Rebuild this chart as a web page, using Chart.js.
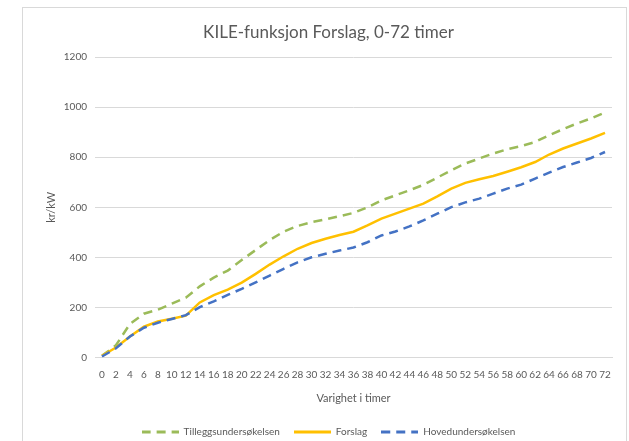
<!DOCTYPE html>
<html>
<head>
<meta charset="utf-8">
<script src="https://cdn.jsdelivr.net/npm/chart.js@4"></script>
<style>
  body { margin: 0; background: #ffffff; }
  #frame {
    position: absolute; left: 22px; top: 7px;
    width: 603px; height: 440px;
    border: 1px solid #d9d9d9; background: #ffffff;
  }
  canvas { display: block; }
</style>
</head>
<body>
<div id="frame"><canvas id="chart" width="603" height="440"></canvas></div>
<script>
// Hours on the x axis (0-72, every 2 hours)
const hours = ['0','2','4','6','8','10','12','14','16','18','20','22','24','26','28','30','32','34','36',
               '38','40','42','44','46','48','50','52','54','56','58','60','62','64','66','68','70','72'];

// kr/kW values
const tillegg = [8, 50, 135, 176, 192, 216, 240, 285, 320, 348, 390, 430, 470, 503, 526, 541, 552, 565, 578,
                 600, 628, 648, 668, 690, 719, 748, 775, 795, 815, 832, 845, 861, 888, 912, 935, 955, 979];
const forslag = [8, 41, 85, 124, 145, 156, 168, 221, 250, 272, 300, 335, 372, 405, 435, 458, 475, 490, 503,
                 528, 555, 575, 595, 615, 644, 675, 698, 712, 725, 742, 760, 781, 811, 835, 855, 875, 897];
const hoved = [5, 38, 85, 120, 140, 155, 170, 202, 225, 251, 275, 301, 328, 355, 381, 401, 415, 428, 440,
               461, 488, 504, 524, 548, 575, 601, 620, 635, 655, 675, 691, 715, 739, 761, 779, 797, 821];

const yTicks = [0, 200, 400, 600, 800, 1000, 1200];

const green = '#9bbb59';
const yellow = '#ffc000';
const blue = '#4472c4';
const textColor = '#595959';
const gridColor = '#d9d9d9';
const fontName = 'Lato, "Open Sans", sans-serif';

// little canvases used as legend samples
function legendSample(color, dashed) {
    const c = document.createElement('canvas');
    c.width = 37;
    c.height = 4;
    const g = c.getContext('2d');
    g.strokeStyle = color;
    g.lineWidth = 3;
    if (dashed) g.setLineDash([9, 6]);
    g.beginPath();
    g.moveTo(0, 2);
    g.lineTo(37, 2);
    g.stroke();
    return c;
}
const samples = [legendSample(green, true), legendSample(yellow, false), legendSample(blue, true)];

const ctx = document.getElementById('chart').getContext('2d');
const chart = new Chart(ctx, {
    type: 'line',
    data: {
        labels: hours,
        datasets: [{
            label: 'Tilleggsundersøkelsen',
            data: tillegg,
            borderColor: green,
            borderWidth: 2.5,
            borderDash: [9, 6],
            pointRadius: 0,
            order: 2
        }, {
            label: 'Forslag',
            data: forslag,
            borderColor: yellow,
            borderWidth: 2.5,
            pointRadius: 0,
            order: 1
        }, {
            label: 'Hovedundersøkelsen',
            data: hoved,
            borderColor: blue,
            borderWidth: 2.5,
            borderDash: [9, 6],
            pointRadius: 0,
            order: 0
        }]
    },
    options: {
        responsive: false,
        animation: false,
        layout: { padding: { left: 22, right: 14, top: 0, bottom: 1 } },
        plugins: {
            tooltip: { enabled: false },
            title: {
                display: true,
                text: 'KILE-funksjon Forslag, 0-72 timer',
                color: textColor,
                font: { family: fontName, size: 17, weight: 'normal' },
                padding: { top: 14, bottom: 14.6 }
            },
            legend: {
                position: 'bottom',
                labels: {
                    usePointStyle: true,
                    pointStyleWidth: 37,
                    padding: 14,
                    color: textColor,
                    font: { family: fontName, size: 10 },
                    generateLabels: c => c.data.datasets.map((ds, i) => ({
                        text: ds.label,
                        pointStyle: samples[i],
                        fontColor: textColor,
                        lineWidth: 0,
                        datasetIndex: i,
                        hidden: false
                    }))
                }
            }
        },
        scales: {
            x: {
                offset: true,
                grid: { display: false, drawTicks: false },
                border: { display: true, color: gridColor },
                ticks: {
                    autoSkip: false,
                    maxRotation: 0,
                    minRotation: 0,
                    padding: 11,
                    color: textColor,
                    font: { family: fontName, size: 10 }
                },
                title: {
                    display: true,
                    text: 'Varighet i timer',
                    color: textColor,
                    font: { family: fontName, size: 11 },
                    padding: { top: 0, bottom: 8 }
                }
            },
            y: {
                min: 0,
                max: 1200,
                afterBuildTicks: s => { s.ticks = yTicks.map(v => ({ value: v })); },
                afterFit: s => { s.width = 50; },
                grid: { color: gridColor, drawTicks: false },
                border: { display: false },
                ticks: {
                    padding: 8,
                    color: textColor,
                    font: { family: fontName, size: 10 },
                    callback: v => String(v)
                },
                title: {
                    display: true,
                    text: 'kr/kW',
                    color: textColor,
                    font: { family: fontName, size: 11 },
                    padding: { top: 0, bottom: 0 }
                }
            }
        }
    }
});
</script>
</body>
</html>
